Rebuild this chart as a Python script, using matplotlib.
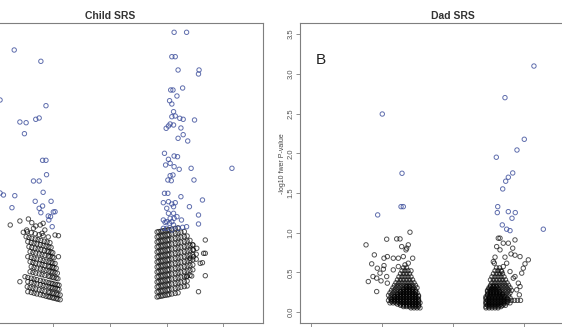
import numpy as np
from matplotlib import pyplot as plt

plt.rcParams['font.family'] = ['Liberation Sans', 'DejaVu Sans']

# ---------------- values ----------------
x_ticks = [-0.2, -0.1, 0.0, 0.1, 0.2]
child_y_ticks = [0, 1, 2, 3, 4, 5]
dad_y_ticks = [0.0, 0.5, 1.0, 1.5, 2.0, 2.5, 3.0, 3.5]

# Child SRS, negative effects (black), one list per band
child_neg_x = [
    [-0.145, -0.139, -0.134, -0.129, -0.123, -0.118, -0.113, -0.109, -0.106, -0.102, -0.099, -0.095, -0.092, -0.088],
    [-0.146, -0.141, -0.136, -0.131, -0.125, -0.120, -0.115, -0.109, -0.106, -0.102, -0.099, -0.095, -0.092, -0.088],
    [-0.145, -0.139, -0.134, -0.129, -0.123, -0.118, -0.113, -0.108, -0.104, -0.101, -0.097, -0.093, -0.090],
    [-0.150, -0.145, -0.139, -0.134, -0.129, -0.123, -0.118, -0.113, -0.108, -0.104, -0.101, -0.097, -0.093, -0.090],
    [-0.141, -0.136, -0.131, -0.125, -0.120, -0.115, -0.109, -0.106, -0.102, -0.099, -0.095, -0.092],
    [-0.139, -0.134, -0.129, -0.123, -0.118, -0.113, -0.108, -0.104, -0.101, -0.097, -0.093],
    [-0.141, -0.136, -0.131, -0.125, -0.120, -0.115, -0.109, -0.106, -0.102, -0.099, -0.095],
    [-0.145, -0.139, -0.134, -0.129, -0.123, -0.118, -0.113, -0.108, -0.104, -0.101, -0.097],
    [-0.141, -0.136, -0.131, -0.125, -0.120, -0.115, -0.109, -0.106, -0.102, -0.099],
    [-0.143, -0.138, -0.132, -0.127, -0.122, -0.116, -0.111, -0.108, -0.104, -0.101],
    [-0.145, -0.139, -0.134, -0.129, -0.123, -0.118, -0.113, -0.108, -0.104],
    [-0.148, -0.143, -0.138, -0.132, -0.127, -0.122, -0.116, -0.111, -0.106],
    [-0.146, -0.139, -0.132, -0.125, -0.118, -0.109],
    [-0.159, -0.176, -0.159, -0.144, -0.138, -0.147, -0.153, -0.135, -0.123, -0.118, -0.120, -0.115, -0.097, -0.091, -0.091, -0.131],
]
child_neg_y = [
    [0.366, 0.351, 0.336, 0.321, 0.306, 0.291, 0.276, 0.266, 0.256, 0.246, 0.236, 0.226, 0.216, 0.206],
    [0.466, 0.451, 0.436, 0.421, 0.406, 0.391, 0.376, 0.361, 0.351, 0.341, 0.331, 0.321, 0.311, 0.301],
    [0.566, 0.551, 0.536, 0.521, 0.506, 0.491, 0.476, 0.461, 0.451, 0.441, 0.431, 0.421, 0.411],
    [0.666, 0.651, 0.636, 0.621, 0.606, 0.591, 0.576, 0.561, 0.546, 0.536, 0.526, 0.516, 0.506, 0.496],
    [0.766, 0.751, 0.736, 0.721, 0.706, 0.691, 0.676, 0.666, 0.656, 0.646, 0.636, 0.626],
    [0.866, 0.851, 0.836, 0.821, 0.806, 0.791, 0.776, 0.766, 0.756, 0.746, 0.736],
    [0.966, 0.951, 0.936, 0.921, 0.906, 0.891, 0.876, 0.866, 0.856, 0.846, 0.836],
    [1.066, 1.051, 1.036, 1.021, 1.006, 0.991, 0.976, 0.961, 0.951, 0.941, 0.931],
    [1.166, 1.151, 1.136, 1.121, 1.106, 1.091, 1.076, 1.066, 1.056, 1.046],
    [1.266, 1.251, 1.236, 1.221, 1.206, 1.191, 1.176, 1.166, 1.156, 1.146],
    [1.366, 1.351, 1.336, 1.321, 1.306, 1.291, 1.276, 1.261, 1.251],
    [1.466, 1.451, 1.436, 1.421, 1.406, 1.391, 1.376, 1.361, 1.346],
    [1.566, 1.546, 1.526, 1.506, 1.486, 1.461],
    [0.566, 1.70, 1.78, 1.82, 1.746, 1.60, 1.554, 1.634, 1.70, 1.734, 1.534, 1.60, 1.50, 1.486, 1.066, 1.68],
]

# Child SRS, positive effects (black): band columns and band heights
child_pos_cols = [0.083, 0.086, 0.090, 0.093, 0.097, 0.101, 0.104, 0.109,
                  0.115, 0.120, 0.125, 0.131, 0.136, 0.141, 0.146, 0.152]
child_pos_rows = [
    [0.26, 0.268, 0.276, 0.284, 0.292, 0.30, 0.308, 0.32, 0.332, 0.344],
    [0.36, 0.368, 0.376, 0.384, 0.392, 0.40, 0.408, 0.42, 0.432, 0.444, 0.456, 0.468, 0.48],
    [0.46, 0.468, 0.476, 0.484, 0.492, 0.50, 0.508, 0.52, 0.532, 0.544, 0.556, 0.568, 0.58],
    [0.56, 0.568, 0.576, 0.584, 0.592, 0.60, 0.608, 0.62, 0.632, 0.644, 0.656, 0.668, 0.68, 0.692],
    [0.66, 0.668, 0.676, 0.684, 0.692, 0.70, 0.708, 0.72, 0.732, 0.744, 0.756, 0.768, 0.78, 0.792, 0.804],
    [0.76, 0.768, 0.776, 0.784, 0.792, 0.80, 0.808, 0.82, 0.832, 0.844, 0.856, 0.868, 0.88, 0.892, 0.904],
    [0.86, 0.868, 0.876, 0.884, 0.892, 0.90, 0.908, 0.92, 0.932, 0.944, 0.956, 0.968, 0.98, 0.992, 1.004, 1.016],
    [0.96, 0.968, 0.976, 0.984, 0.992, 1.00, 1.008, 1.02, 1.032, 1.044, 1.056, 1.068, 1.08, 1.092, 1.104, 1.116],
    [1.06, 1.068, 1.076, 1.084, 1.092, 1.10, 1.108, 1.12, 1.132, 1.144, 1.156, 1.168, 1.18, 1.192, 1.204],
    [1.16, 1.168, 1.176, 1.184, 1.192, 1.20, 1.208, 1.22, 1.232, 1.244, 1.256, 1.268, 1.28, 1.292, 1.304],
    [1.26, 1.268, 1.276, 1.284, 1.292, 1.30, 1.308, 1.32, 1.332, 1.344, 1.356, 1.368, 1.38, 1.392],
    [1.36, 1.368, 1.376, 1.384, 1.392, 1.40, 1.408, 1.42, 1.432, 1.444, 1.456, 1.468, 1.48],
    [1.46, 1.468, 1.476, 1.484, 1.492, 1.50, 1.508, 1.52, 1.532, 1.544, 1.556, 1.568],
    [1.56, 1.568, 1.576, 1.584, 1.592, 1.60, 1.608, 1.62, 1.632, 1.644],
]
child_pos_extra_x = [0.156, 0.168, 0.159, 0.163, 0.165, 0.168, 0.147, 0.153, 0.146, 0.168,
                     0.135, 0.144, 0.141, 0.147]
child_pos_extra_y = [0.366, 0.686, 0.934, 0.946, 1.134, 1.134, 1.20, 1.234, 1.30, 1.40,
                     0.666, 0.68, 1.034, 1.066]

# Child SRS, significant (blue)
child_sig_x = [-0.194, -0.169, -0.122, -0.113, -0.159, -0.148, -0.131, -0.125, -0.151, -0.119,
               -0.113, -0.112, -0.135, -0.125, -0.118, -0.188, -0.168, -0.173, -0.132, -0.104,
               -0.125, -0.119, -0.122, -0.109, -0.105, -0.100, -0.097, -0.108, -0.102, -0.194,
               0.113, 0.135, 0.109, 0.115, 0.120, 0.157, 0.156, 0.107, 0.111, 0.128,
               0.118, 0.105, 0.109, 0.112, 0.109, 0.115, 0.123, 0.129, 0.149, 0.106,
               0.112, 0.099, 0.103, 0.125, 0.129, 0.120, 0.137, 0.096, 0.113, 0.119,
               0.103, 0.098, 0.106, 0.113, 0.122, 0.143, 0.106, 0.111, 0.102, 0.108,
               0.148, 0.215, 0.096, 0.102, 0.125, 0.163, 0.094, 0.103, 0.109, 0.115,
               0.100, 0.112, 0.140, 0.103, 0.112, 0.106, 0.118, 0.094, 0.100, 0.109,
               0.126, 0.120, 0.128, 0.135, 0.094, 0.156, 0.156, 0.113, 0.097, 0.105,
               0.112, 0.100, 0.109]
child_sig_y = [4.20, 5.20, 4.974, 4.086, 3.76, 3.746, 3.814, 3.84, 3.526, 2.994,
               2.994, 2.706, 2.58, 2.58, 2.354, 2.30, 2.286, 2.046, 2.174, 2.174,
               2.034, 2.08, 1.946, 1.88, 1.866, 1.96, 1.966, 1.80, 1.666, 2.34,
               5.554, 5.554, 5.066, 5.066, 4.80, 4.80, 4.72, 4.40, 4.40, 4.44,
               4.28, 4.186, 4.12, 3.966, 3.866, 3.88, 3.834, 3.814, 3.80, 3.72,
               3.70, 3.634, 3.68, 3.64, 3.506, 3.434, 3.38, 3.134, 3.08, 3.066,
               3.014, 2.90, 2.934, 2.866, 2.814, 2.834, 2.686, 2.70, 2.60, 2.586,
               2.60, 2.834, 2.334, 2.334, 2.266, 2.20, 2.146, 2.166, 2.12, 2.146,
               2.034, 2.066, 2.066, 1.934, 1.934, 1.834, 1.866, 1.80, 1.766, 1.766,
               1.80, 1.634, 1.654, 1.666, 1.634, 1.90, 1.72, 1.834, 1.754, 1.734,
               1.70, 1.634, 1.60]

# Dad SRS, dense bands near the bottom (black): one x list per height
dad_blob_y = [0.054, 0.086, 0.117, 0.148, 0.180, 0.211, 0.243, 0.274, 0.306,
              0.337, 0.369, 0.406, 0.444, 0.482, 0.520, 0.557, 0.595]
dad_neg_blob_x = [
    [-0.0592, -0.0549, -0.0507, -0.0465],
    [-0.0739, -0.0697, -0.0655, -0.0613, -0.0570, -0.0528, -0.0486],
    [-0.0887, -0.0845, -0.0803, -0.0761, -0.0718, -0.0676, -0.0634, -0.0592, -0.0549, -0.0507, -0.0465],
    [-0.0908, -0.0866, -0.0824, -0.0782, -0.0739, -0.0697, -0.0655, -0.0613, -0.0570, -0.0528, -0.0486],
    [-0.0887, -0.0845, -0.0803, -0.0761, -0.0718, -0.0676, -0.0634, -0.0592, -0.0549, -0.0507],
    [-0.0908, -0.0866, -0.0824, -0.0782, -0.0739, -0.0697, -0.0655, -0.0613, -0.0570, -0.0528, -0.0486],
    [-0.0887, -0.0845, -0.0803, -0.0761, -0.0718, -0.0676, -0.0634, -0.0592, -0.0549, -0.0507],
    [-0.0866, -0.0824, -0.0782, -0.0739, -0.0697, -0.0655, -0.0613, -0.0570, -0.0528],
    [-0.0845, -0.0803, -0.0761, -0.0718, -0.0676, -0.0634, -0.0592, -0.0549, -0.0507],
    [-0.0824, -0.0782, -0.0739, -0.0697, -0.0655, -0.0613, -0.0570, -0.0528],
    [-0.0803, -0.0761, -0.0718, -0.0676, -0.0634, -0.0592, -0.0549],
    [-0.0782, -0.0739, -0.0697, -0.0655, -0.0613, -0.0570],
    [-0.0761, -0.0718, -0.0676, -0.0634, -0.0592],
    [-0.0739, -0.0697, -0.0655, -0.0613],
    [-0.0718, -0.0676, -0.0634, -0.0592],
    [-0.0697, -0.0655],
    [-0.0676],
]
dad_pos_blob_x = [
    [0.0465, 0.0507, 0.0549, 0.0592, 0.0634],
    [0.0486, 0.0528, 0.0570, 0.0613, 0.0655, 0.0697, 0.0739],
    [0.0465, 0.0507, 0.0549, 0.0592, 0.0634, 0.0676, 0.0718, 0.0761, 0.0803],
    [0.0486, 0.0528, 0.0570, 0.0613, 0.0655, 0.0697, 0.0739, 0.0782, 0.0824, 0.0866, 0.0908, 0.0951],
    [0.0465, 0.0507, 0.0549, 0.0592, 0.0634, 0.0676, 0.0718, 0.0761, 0.0803],
    [0.0486, 0.0528, 0.0570, 0.0613, 0.0655, 0.0697, 0.0739, 0.0782],
    [0.0507, 0.0549, 0.0592, 0.0634, 0.0676, 0.0718, 0.0761, 0.0803],
    [0.0486, 0.0528, 0.0570, 0.0613, 0.0655, 0.0697, 0.0739, 0.0782, 0.0824],
    [0.0507, 0.0549, 0.0592, 0.0634, 0.0676, 0.0718, 0.0761, 0.0803],
    [0.0528, 0.0570, 0.0613, 0.0655, 0.0697, 0.0739, 0.0782],
    [0.0549, 0.0592, 0.0634, 0.0676, 0.0718, 0.0761],
    [0.0528, 0.0570, 0.0613, 0.0655, 0.0697, 0.0739],
    [0.0549, 0.0592, 0.0634, 0.0676, 0.0718],
    [0.0570, 0.0613, 0.0655, 0.0697],
    [0.0592, 0.0634, 0.0676],
    [0.0613, 0.0655],
    [],
]

# Dad SRS, extra points packed into the dark core of each blob
dad_fill_y = [0.070, 0.101, 0.133, 0.164, 0.195, 0.227, 0.258, 0.290, 0.322]
dad_neg_fill_x = [
    [-0.0697, -0.0655, -0.0613, -0.0570, -0.0528, -0.0486],
    [-0.0782, -0.0739, -0.0697, -0.0655, -0.0613, -0.0570, -0.0528, -0.0486],
    [-0.0866, -0.0824, -0.0782, -0.0739, -0.0697, -0.0655, -0.0613, -0.0570, -0.0528, -0.0486],
    [-0.0866, -0.0824, -0.0782, -0.0739, -0.0697, -0.0655, -0.0613, -0.0570, -0.0528, -0.0486],
    [-0.0824, -0.0782, -0.0739, -0.0697, -0.0655, -0.0613, -0.0570, -0.0528, -0.0486],
    [-0.0782, -0.0739, -0.0697, -0.0655, -0.0613, -0.0570, -0.0528],
    [-0.0739, -0.0697, -0.0655, -0.0613, -0.0570, -0.0528],
    [-0.0697, -0.0655, -0.0613, -0.0570],
    [-0.0655, -0.0613],
]
dad_pos_fill_x = [
    [0.0465, 0.0507, 0.0549, 0.0592, 0.0634, 0.0676],
    [0.0465, 0.0507, 0.0549, 0.0592, 0.0634, 0.0676, 0.0718],
    [0.0465, 0.0507, 0.0549, 0.0592, 0.0634, 0.0676, 0.0718, 0.0761],
    [0.0465, 0.0507, 0.0549, 0.0592, 0.0634, 0.0676, 0.0718, 0.0761],
    [0.0465, 0.0507, 0.0549, 0.0592, 0.0634, 0.0676, 0.0718],
    [0.0486, 0.0528, 0.0570, 0.0613, 0.0655, 0.0697],
    [0.0486, 0.0528, 0.0570, 0.0613, 0.0655],
    [0.0507, 0.0549, 0.0592, 0.0634],
    [0.0528, 0.0570, 0.0613],
]

# Dad SRS, scattered non-significant points (black)
dad_other_x = [-0.1225, -0.0606, -0.0934, -0.0793, -0.0746, -0.1108, -0.1145, -0.1066, -0.1193, -0.1075,
               -0.0972, -0.0925, -0.0841, -0.0770, -0.0700, -0.0652, -0.0630, -0.0568, -0.1028, -0.0981,
               -0.1075, -0.0934, -0.0925, -0.0723, -0.1127, -0.1014, -0.0841, -0.0770, -0.0630, -0.0972,
               -0.0662,
               0.0873, 0.0638, 0.0662, 0.0708, 0.0779, 0.0615, 0.0662, 0.0817, 0.0873, 0.0944,
               0.0592, 0.0732, 0.1061, 0.0568, 0.0582, 0.0756, 0.0708, 0.1014, 0.0990, 0.0686,
               0.0968, 0.0873, 0.0944, 0.0897, 0.0934, 0.0849, 0.0803, 0.0920, 0.0841]
dad_other_y = [0.847, 1.006, 0.918, 0.922, 0.922, 0.721, 0.608, 0.553, 0.385, 0.259,
               0.679, 0.699, 0.679, 0.679, 0.699, 0.805, 0.847, 0.679, 0.491, 0.541,
               0.428, 0.448, 0.365, 0.825, 0.448, 0.394, 0.532, 0.574, 0.616, 0.586,
               0.784,
               0.909, 0.931, 0.931, 0.868, 0.868, 0.825, 0.784, 0.733, 0.717, 0.699,
               0.692, 0.692, 0.658, 0.636, 0.616, 0.616, 0.574, 0.608, 0.553, 0.511,
               0.491, 0.448, 0.322, 0.281, 0.218, 0.428, 0.511, 0.365, 0.805]

# Dad SRS, significant (blue)
dad_sig_x = [-0.0996, -0.0718, -0.0732, -0.0700, -0.1061,
             0.1140, 0.0732, 0.1004, 0.0901, 0.0610, 0.0841, 0.0779, 0.0742, 0.0700, 0.0630,
             0.0624, 0.0779, 0.0877, 0.0831, 0.0694, 0.0756, 0.0803, 0.1272]
dad_sig_y = [2.494, 1.748, 1.328, 1.328, 1.224,
             3.098, 2.700, 2.176, 2.041, 1.950, 1.752, 1.698, 1.648, 1.551, 1.328,
             1.253, 1.265, 1.253, 1.182, 1.098, 1.044, 1.026, 1.044]

# ---------------- drawing ----------------
FRAME = '#7f7f7f'
BLACK = (0.0, 0.0, 0.0, 0.68)
BLUE = (0.22, 0.29, 0.60, 0.8)


def circles(ax, x, y, color):
    ax.scatter(x, y, s=10, facecolors='none', edgecolors=[color], linewidths=0.7, zorder=2)


def style_axes(ax, title):
    for sp in ax.spines.values():
        sp.set_color(FRAME)
        sp.set_linewidth(0.8)
    ax.set_title(title, fontsize=7.5, fontweight='bold', color='#333333', pad=3)
    # tick labels of the x axes sit below the cropped picture, so only the marks are kept
    ax.set_xticks(x_ticks)
    ax.set_xticklabels([])
    ax.tick_params(direction='out', length=2.6, width=0.6, color=FRAME,
                   labelsize=5.5, labelcolor='#555555', pad=1.5)


fig = plt.figure(figsize=(5.62, 3.27), dpi=100)
ax1 = fig.add_axes([-0.0770, 0.01315, 0.5456, 0.9156])
ax2 = fig.add_axes([0.5338, 0.01315, 0.5445, 0.9156])

# Child panel
for xs, ys in zip(child_neg_x, child_neg_y):
    circles(ax1, xs, ys, BLACK)
for ys in child_pos_rows:
    circles(ax1, child_pos_cols[:len(ys)], ys, BLACK)
circles(ax1, child_pos_extra_x, child_pos_extra_y, BLACK)
circles(ax1, child_sig_x, child_sig_y, BLUE)
ax1.set_xlim(-0.2704, 0.2704)
ax1.set_ylim(-0.254, 5.734)
ax1.set_yticks(child_y_ticks)
ax1.set_yticklabels([])
style_axes(ax1, 'Child SRS')

# Dad panel
for xs, yv in zip(dad_neg_blob_x, dad_blob_y):
    circles(ax2, xs, [yv] * len(xs), BLACK)
for xs, yv in zip(dad_pos_blob_x, dad_blob_y):
    if xs:
        circles(ax2, xs, [yv] * len(xs), BLACK)
for xs, yv in zip(dad_neg_fill_x, dad_fill_y):
    circles(ax2, xs, [yv] * len(xs), BLACK)
for xs, yv in zip(dad_pos_fill_x, dad_fill_y):
    circles(ax2, xs, [yv] * len(xs), BLACK)
circles(ax2, dad_other_x, dad_other_y, BLACK)
circles(ax2, dad_sig_x, dad_sig_y, BLUE)
ax2.set_xlim(-0.2155, 0.2155)
ax2.set_ylim(-0.133, 3.636)
ax2.set_yticks(dad_y_ticks)
ax2.set_yticklabels(['%.1f' % t for t in dad_y_ticks], rotation=90, va='center')
style_axes(ax2, 'Dad SRS')
ax2.set_ylabel('-log10 fwer P-value', fontsize=5, color='#444444')
ax2.yaxis.set_label_coords(-0.045, 0.53)
ax2.text(0.0686, 0.877, 'B', transform=ax2.transAxes, fontsize=11, color='#222222',
         ha='center', va='center')

fig.savefig('out.png', dpi=100)
